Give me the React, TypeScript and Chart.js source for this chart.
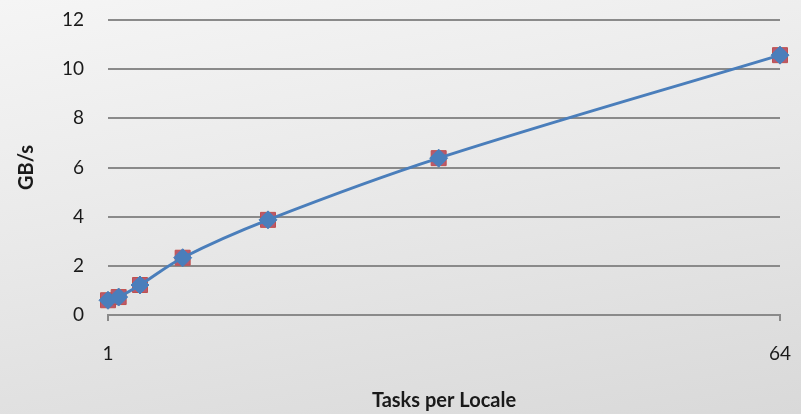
import React, { useEffect, useRef } from "react";
import { Chart, registerables } from "chart.js";

Chart.register(...registerables);

const tasksPerLocale = [1, 2, 4, 8, 16, 32, 64];
const gbPerSecond = [0.6, 0.73, 1.22, 2.33, 3.87, 6.38, 10.57];
const xTickValues = [1, 64];
const yTitle = "GB/s";
const xTitle = "Tasks per Locale";

export default function App() {
  const ref = useRef<HTMLCanvasElement | null>(null);

  useEffect(() => {
    document.body.style.margin = "0";
    const pts = tasksPerLocale.map((x, i) => ({ x, y: gbPerSecond[i] }));
    const font = "Lato, 'Open Sans', sans-serif";
    const chart = new Chart(ref.current as HTMLCanvasElement, {
      type: "line",
      data: {
        datasets: [
          {
            data: pts,
            borderColor: "#4a7ebb",
            borderWidth: 3,
            tension: 0.35,
            pointStyle: "rectRot",
            pointRadius: 9,
            pointBackgroundColor: "#4a7ebb",
            pointBorderColor: "#4a7ebb",
            pointBorderWidth: 1,
            clip: false,
            order: 0,
          },
          {
            data: pts,
            showLine: false,
            pointStyle: "rect",
            pointRadius: 10.6,
            pointBackgroundColor: "#b65a6e",
            pointBorderColor: "#c0504d",
            pointBorderWidth: 1,
            clip: false,
            order: 1,
          },
        ],
      },
      options: {
        animation: false,
        responsive: false,
        maintainAspectRatio: false,
        layout: { padding: { top: 20, right: 21, left: 0, bottom: 0 } },
        plugins: { legend: { display: false }, tooltip: { enabled: false } },
        scales: {
          x: {
            type: "linear",
            min: 1,
            max: 64,
            afterBuildTicks: (s: any) => {
              s.ticks = xTickValues.map((v) => ({ value: v }));
            },
            afterFit: (s: any) => {
              s.height = 99;
              s.paddingLeft = 0;
              s.paddingRight = 0;
            },
            border: { display: true, color: "#8a8a8a", width: 2 },
            grid: {
              drawOnChartArea: false,
              drawTicks: true,
              tickLength: 6,
              color: "#8a8a8a",
              lineWidth: 2,
            },
            ticks: {
              padding: 21,
              color: "#1a1a1a",
              font: { family: font, size: 19 },
            },
            title: {
              display: true,
              text: xTitle,
              color: "#1a1a1a",
              font: { family: font, size: 20, weight: "bold" },
              padding: { top: 0, bottom: 1 },
            },
          },
          y: {
            min: 0,
            max: 12,
            afterFit: (s: any) => {
              s.width = 108;
              s.paddingTop = 0;
              s.paddingBottom = 0;
            },
            border: { display: false },
            grid: {
              drawTicks: false,
              color: "#8a8a8a",
              lineWidth: 2,
            },
            ticks: {
              stepSize: 2,
              padding: 24,
              color: "#1a1a1a",
              font: { family: font, size: 19 },
            },
            title: {
              display: true,
              text: yTitle,
              color: "#1a1a1a",
              font: { family: font, size: 20, weight: "bold" },
              padding: { top: 15, bottom: 0 },
            },
          },
        },
      },
    });
    return () => chart.destroy();
  }, []);

  return (
    <div
      style={{
        position: "absolute",
        left: 0,
        top: 0,
        width: 801,
        height: 414,
        background: "linear-gradient(170deg, #f5f5f5 0%, #e9e9e9 45%, #d9d9d9 100%)",
      }}
    >
      <canvas ref={ref} width={801} height={414} />
    </div>
  );
}
